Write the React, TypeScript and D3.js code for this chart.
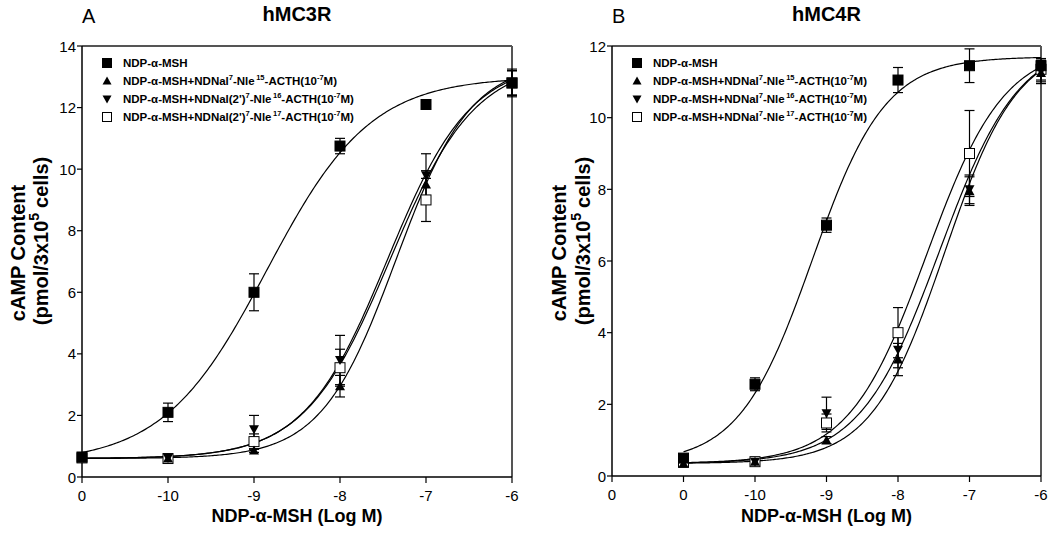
import * as d3 from 'd3';

// dose positions (log M); the basal point ("0" label) sits one decade left of -10
const xDose = [-11, -10, -9, -8, -7, -6];

// hMC3R panel
const mc3Msh = [0.65, 2.1, 6.0, 10.75, 12.1, 12.8];
const mc3MshErr = [0.05, 0.3, 0.6, 0.25, 0.08, 0.45];
const mc3Nle15 = [0.6, 0.6, 0.86, 2.95, 9.5, 12.8];
const mc3Nle15Err = [0.05, 0.1, 0.06, 0.35, 0.45, 0.4];
const mc3Nle16 = [0.62, 0.62, 1.55, 3.8, 9.8, 12.8];
const mc3Nle16Err = [0.05, 0.1, 0.45, 0.8, 0.7, 0.4];
const mc3Nle17 = [0.62, 0.6, 1.15, 3.55, 9.0, 12.8];
const mc3Nle17Err = [0.05, 0.1, 0.25, 0.6, 0.7, 0.4];

// hMC4R panel
const mc4Msh = [0.5, 2.56, 7.0, 11.05, 11.45, 11.45];
const mc4MshErr = [0.1, 0.18, 0.2, 0.35, 0.47, 0.15];
const mc4Nle15 = [0.35, 0.4, 1.0, 3.25, 7.95, 11.25];
const mc4Nle15Err = [0.05, 0.08, 0.1, 0.45, 0.4, 0.3];
const mc4Nle16 = [0.42, 0.4, 1.75, 3.52, 8.0, 11.3];
const mc4Nle16Err = [0.05, 0.08, 0.45, 0.5, 0.4, 0.3];
const mc4Nle17 = [0.38, 0.4, 1.48, 4.0, 9.0, 11.35];
const mc4Nle17Err = [0.05, 0.08, 0.25, 0.7, 1.2, 0.3];

// sigmoid fit parameters per series: [bottom, top, logEC50, hill]
const mc3Fits = [
  [0.45, 13.0, -8.85, 0.72],
  [0.6, 13.5, -7.35, 1.0],
  [0.6, 13.5, -7.45, 0.9],
  [0.6, 13.5, -7.42, 0.88],
];
const mc4Fits = [
  [0.35, 11.7, -9.2, 0.85],
  [0.35, 12.1, -7.35, 0.85],
  [0.35, 12.2, -7.42, 0.78],
  [0.35, 12.0, -7.6, 0.8],
];

const mc3TickPos = [-11, -10, -9, -8, -7, -6];
const mc3TickLabels = ['0', '-10', '-9', '-8', '-7', '-6'];
const mc4TickPos = [-12, -11, -10, -9, -8, -7, -6];
const mc4TickLabels = ['0', '0', '-10', '-9', '-8', '-7', '-6'];

type Seg = { t: string; sup?: boolean; gap?: boolean };
const mc3Legend: Seg[][] = [
  [{ t: 'NDP-α-MSH' }],
  [{ t: 'NDP-α-MSH+NDNal' }, { t: '7', sup: true }, { t: '-Nle' }, { t: '15', sup: true, gap: true }, { t: '-ACTH(10' }, { t: '-7', sup: true }, { t: 'M)' }],
  [{ t: "NDP-α-MSH+NDNal(2')" }, { t: '7', sup: true }, { t: '-Nle' }, { t: '16', sup: true, gap: true }, { t: '-ACTH(10' }, { t: '-7', sup: true }, { t: 'M)' }],
  [{ t: "NDP-α-MSH+NDNal(2')" }, { t: '7', sup: true }, { t: '-Nle' }, { t: '17', sup: true, gap: true }, { t: '-ACTH(10' }, { t: '-7', sup: true }, { t: 'M)' }],
];
const mc4Legend: Seg[][] = [
  [{ t: 'NDP-α-MSH' }],
  [{ t: 'NDP-α-MSH+NDNal' }, { t: '7', sup: true }, { t: '-Nle' }, { t: '15', sup: true, gap: true }, { t: '-ACTH(10' }, { t: '-7', sup: true }, { t: 'M)' }],
  [{ t: 'NDP-α-MSH+NDNal' }, { t: '7', sup: true }, { t: '-Nle' }, { t: '16', sup: true, gap: true }, { t: '-ACTH(10' }, { t: '-7', sup: true }, { t: 'M)' }],
  [{ t: 'NDP-α-MSH+NDNal' }, { t: '7', sup: true }, { t: '-Nle' }, { t: '17', sup: true, gap: true }, { t: '-ACTH(10' }, { t: '-7', sup: true }, { t: 'M)' }],
];

const FONT = "'Liberation Sans', Arial, sans-serif";
const shapes = ['square', 'up', 'down', 'open'];

function Marker({ kind, x, y, s = 10 }: { kind: string; x: number; y: number; s?: number }) {
  const h = s / 2;
  if (kind === 'square' || kind === 'open') {
    return (
      <rect x={x - h} y={y - h} width={s} height={s}
        fill={kind === 'open' ? '#fff' : '#000'} stroke="#000" strokeWidth={1} />
    );
  }
  const pts = kind === 'up'
    ? [[x, y - h], [x + h, y + h * 0.8], [x - h, y + h * 0.8]]
    : [[x, y + h], [x + h, y - h * 0.8], [x - h, y - h * 0.8]];
  return <polygon points={pts.map(p => p.join(',')).join(' ')} fill="#000" />;
}

function LegendText({ x, y, segs }: { x: number; y: number; segs: Seg[] }) {
  let shifted = false;
  return (
    <text x={x} y={y} fontFamily={FONT} fontWeight="bold" fontSize={11.5} dominantBaseline="central">
      {segs.map((s, i) => {
        let dy = 0;
        if (s.sup && !shifted) { dy = -4; shifted = true; }
        else if (!s.sup && shifted) { dy = 4; shifted = false; }
        return (
          <tspan key={i} dy={dy} dx={s.gap ? 1.5 : 0} fontSize={s.sup ? 7.5 : 11.5}>{s.t}</tspan>
        );
      })}
    </text>
  );
}

type PanelProps = {
  left: number; right: number; top: number; bottom: number;
  xMin: number; yMax: number;
  tickPos: number[]; tickLabels: string[];
  series: number[][]; errors: number[][]; fits: number[][];
  legend: Seg[][];
  letter: string; title: string;
  labelX1: number; labelX2: number;
};

function Panel(p: PanelProps) {
  const x = d3.scaleLinear().domain([p.xMin, -6]).range([p.left, p.right]);
  const y = d3.scaleLinear().domain([0, p.yMax]).range([p.bottom, p.top]);
  const yTicks = d3.range(0, p.yMax + 1, 2);
  const line = d3.line<[number, number]>().x(d => x(d[0])).y(d => y(d[1]));
  const xs = d3.range(-11, -6.0001, 0.02).concat([-6]);
  const cx = (p.left + p.right) / 2;

  return (
    <g>
      <text x={p.left} y={23} fontFamily={FONT} fontSize={20}>{p.letter}</text>
      <text x={cx} y={21} fontFamily={FONT} fontSize={20} fontWeight="bold" textAnchor="middle">{p.title}</text>

      {/* frame */}
      <line x1={p.left} x2={p.right} y1={p.top} y2={p.top} stroke="#555" strokeWidth={2} />
      <line x1={p.right} x2={p.right} y1={p.top} y2={p.bottom} stroke="#555" strokeWidth={2} />
      <line x1={p.left} x2={p.left} y1={p.top} y2={p.bottom} stroke="#000" strokeWidth={1.5} />
      <line x1={p.left} x2={p.right} y1={p.bottom} y2={p.bottom} stroke="#000" strokeWidth={1.5} />

      {yTicks.map(t => (
        <g key={t}>
          <line x1={p.left - 5} x2={p.left} y1={y(t)} y2={y(t)} stroke="#000" strokeWidth={1.2} />
          <text x={p.left - 6} y={y(t)} fontFamily={FONT} fontSize={15} textAnchor="end" dominantBaseline="central">{t}</text>
        </g>
      ))}
      {p.tickPos.map((t, i) => (
        <g key={i}>
          <line x1={x(t)} x2={x(t)} y1={p.bottom} y2={p.bottom + 6} stroke="#000" strokeWidth={1.2} />
          <text x={x(t)} y={p.bottom + 24} fontFamily={FONT} fontSize={15} textAnchor="middle">{p.tickLabels[i]}</text>
        </g>
      ))}

      <text x={cx} y={522} fontFamily={FONT} fontSize={18} fontWeight="bold" textAnchor="middle">NDP-α-MSH (Log M)</text>
      <text transform={`translate(${p.labelX1},253) rotate(-90)`} fontFamily={FONT} fontSize={20} fontWeight="bold" textAnchor="middle">cAMP Content</text>
      <text transform={`translate(${p.labelX2},241) rotate(-90)`} fontFamily={FONT} fontSize={20} fontWeight="bold" textAnchor="middle">
        <tspan>(pmol/3x10</tspan>
        <tspan dy={-9} fontSize={14}>5</tspan>
        <tspan dy={9} dx={5}>cells)</tspan>
      </text>

      {/* fitted curves */}
      {p.fits.map(([b, tp, m, h], i) => (
        <path key={i} d={line(xs.map(v => [v, b + (tp - b) / (1 + Math.pow(10, (m - v) * h))]) as [number, number][]) ?? ''}
          fill="none" stroke="#000" strokeWidth={1.2} />
      ))}

      {/* error bars */}
      {p.series.map((s, si) => s.map((v, i) => {
        const e = p.errors[si][i];
        const px = x(xDose[i]);
        return (
          <g key={`${si}-${i}`} stroke="#000" strokeWidth={1.2}>
            <line x1={px} x2={px} y1={y(v - e)} y2={y(v + e)} />
            <line x1={px - 5} x2={px + 5} y1={y(v + e)} y2={y(v + e)} />
            <line x1={px - 5} x2={px + 5} y1={y(v - e)} y2={y(v - e)} />
          </g>
        );
      }))}

      {/* markers, drawn so the filled square stays on top */}
      {[3, 1, 2, 0].map(si => p.series[si].map((v, i) => (
        <Marker key={`${si}-${i}`} kind={shapes[si]} x={x(xDose[i])} y={y(v)} />
      )))}

      {p.legend.map((segs, i) => (
        <g key={i}>
          <Marker kind={shapes[i]} x={p.left + 25} y={63 + i * 18} s={9} />
          <LegendText x={p.left + 41} y={63 + i * 18} segs={segs} />
        </g>
      ))}
    </g>
  );
}

export default function App() {
  return (
    <svg width={1050} height={539} style={{ position: 'absolute', left: 0, top: 0, background: '#fff' }}>
      <rect width={1050} height={539} fill="#fff" />
      <Panel left={82} right={512} top={46} bottom={477} xMin={-11} yMax={14}
        tickPos={mc3TickPos} tickLabels={mc3TickLabels}
        series={[mc3Msh, mc3Nle15, mc3Nle16, mc3Nle17]}
        errors={[mc3MshErr, mc3Nle15Err, mc3Nle16Err, mc3Nle17Err]}
        fits={mc3Fits} legend={mc3Legend} letter="A" title="hMC3R"
        labelX1={25} labelX2={48} />
      <Panel left={612} right={1041} top={46} bottom={476} xMin={-12} yMax={12}
        tickPos={mc4TickPos} tickLabels={mc4TickLabels}
        series={[mc4Msh, mc4Nle15, mc4Nle16, mc4Nle17]}
        errors={[mc4MshErr, mc4Nle15Err, mc4Nle16Err, mc4Nle17Err]}
        fits={mc4Fits} legend={mc4Legend} letter="B" title="hMC4R"
        labelX1={566} labelX2={590} />
    </svg>
  );
}
